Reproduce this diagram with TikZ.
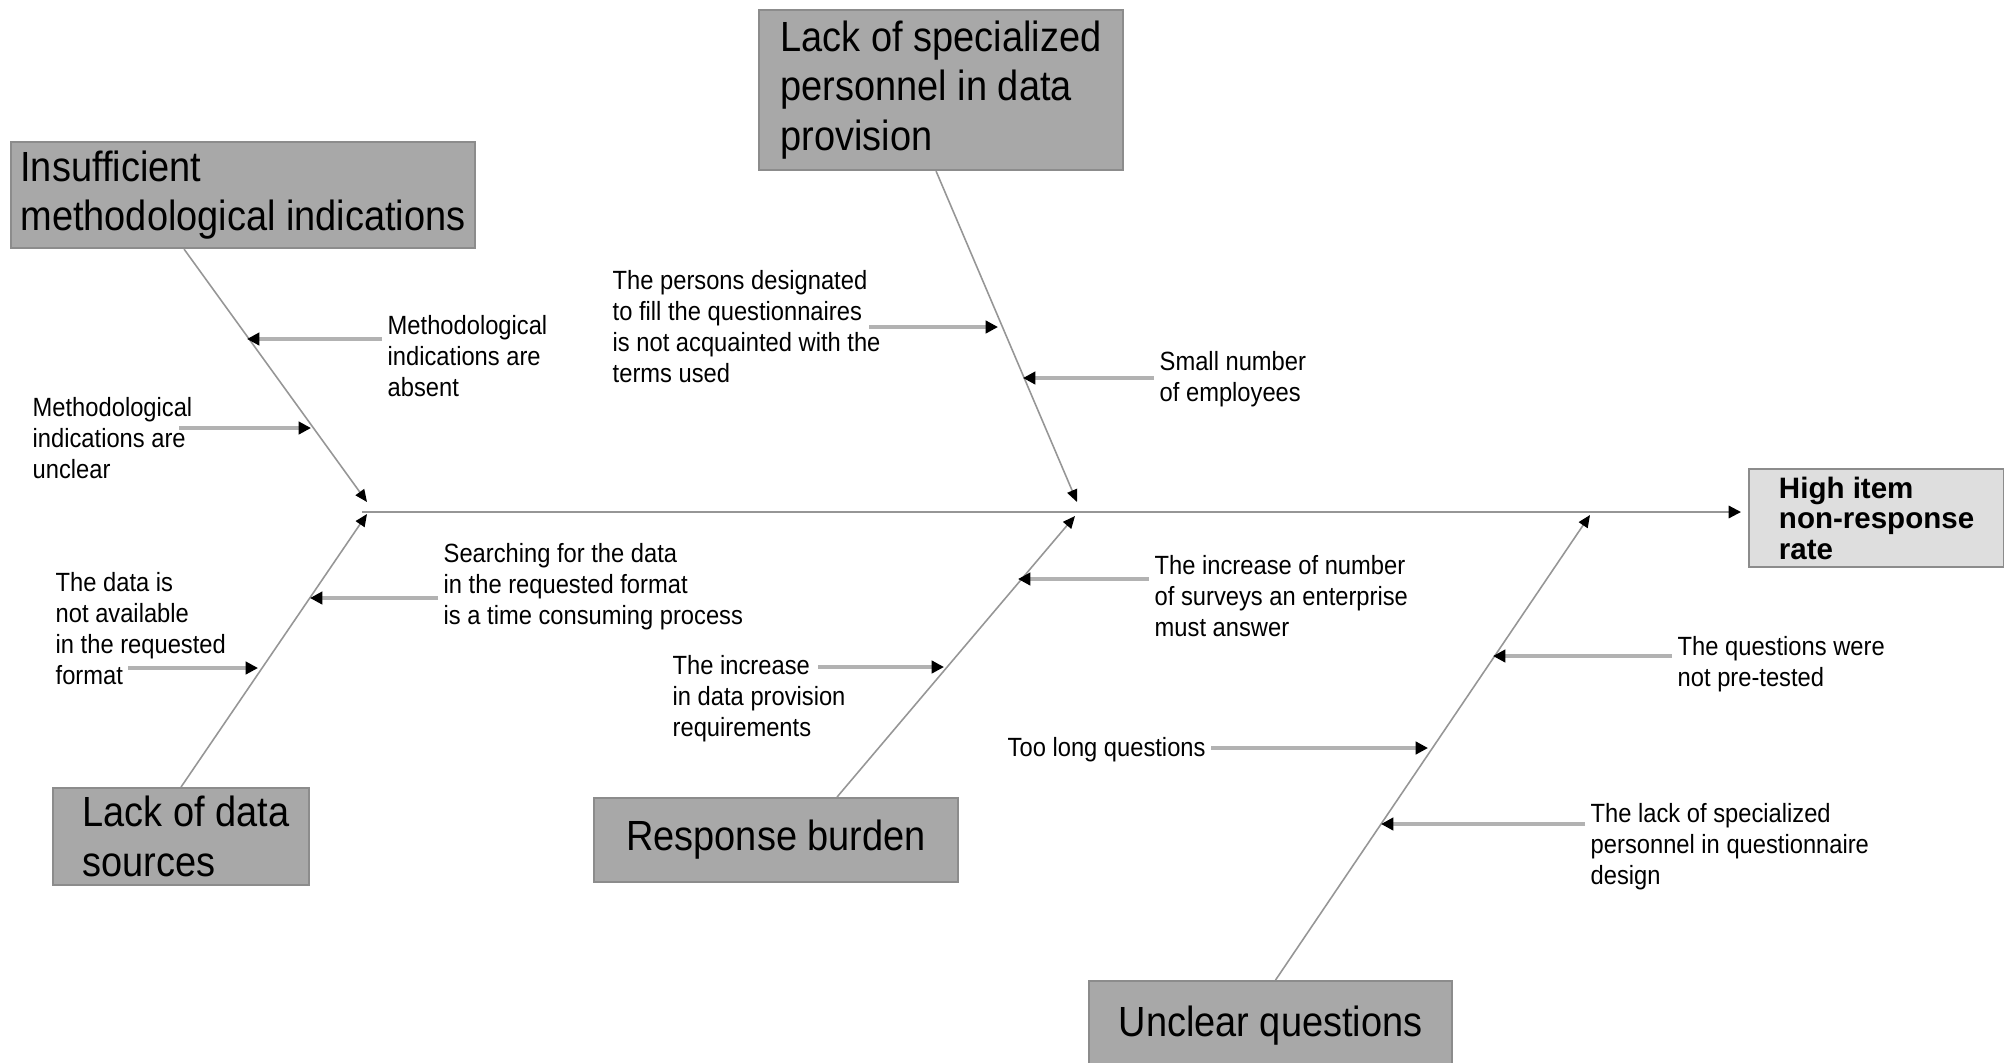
\documentclass[tikz,border=0pt]{standalone}
\usepackage{fontspec}
\setmainfont{Liberation Sans}
\newfontfamily\narrowsans[FakeStretch=0.9]{Liberation Sans}
\usetikzlibrary{arrows.meta, calc, positioning}

\definecolor{boxgray}{RGB}{168,168,168}
\definecolor{boxline}{RGB}{140,140,140}
\definecolor{effectgray}{RGB}{222,222,222}
\definecolor{bonegray}{RGB}{150,150,150}
\definecolor{subgray}{RGB}{178,178,178}

\begin{document}
\begin{tikzpicture}[>=Latex,
  causebox/.style={fill=boxgray, draw=boxline, line width=0.6pt, align=left, anchor=north west,
    inner sep=0pt, font=\narrowsans\fontsize{12}{14.2}\selectfont},
  effectbox/.style={fill=effectgray, draw=boxline, line width=0.6pt, align=left, anchor=north west,
    inner sep=0pt, font=\fontsize{8.4}{8.7}\selectfont\bfseries},
  sublabel/.style={font=\narrowsans\fontsize{7.5}{8.8}\selectfont, align=left, inner sep=0.05cm, anchor=base west},
  bone/.style={draw=bonegray, line width=0.45pt, -{Triangle[color=black, length=3.5pt, width=3pt]}},
  subarrow/.style={draw=subgray, line width=0.9pt, -{Triangle[color=black, length=3.5pt, width=3.5pt]}}]

  \useasboundingbox (0,0) rectangle (20.04,-10.62);

  % cause boxes and effect
  \node[causebox, minimum width=4.64cm, minimum height=1.06cm] (method) at (0.10,-1.41)
    {Insufficient\\methodological indications};
  \node[causebox, minimum width=3.64cm, minimum height=1.60cm] (personnel) at (7.58,-0.09)
    {Lack of specialized\\personnel in data\\provision};
  \node[causebox, minimum width=2.56cm, minimum height=0.97cm] (sources) at (0.52,-7.87)
    {\hspace*{0.1cm}Lack of data\\\hspace*{0.1cm}sources};
  \node[causebox, minimum width=3.64cm, minimum height=0.84cm] (burden) at (5.93,-7.97)
    {Response burden};
  \node[causebox, minimum width=3.63cm, minimum height=0.90cm] (unclearq) at (10.88,-9.80)
    {Unclear questions};
  \node[effectbox, minimum width=2.55cm, minimum height=0.98cm] (effect) at (17.48,-4.68)
    {High item\\non-response\\rate};

  % spine
  \coordinate (spine) at (3.62,-5.12);
  \draw[bonegray, line width=0.6pt, -{Triangle[color=black, length=3.5pt, width=3.5pt]}, shorten >=0.07cm]
    (spine) -- (spine -| effect.west);

  % bones
  \coordinate (hm) at (3.67,-5.02);
  \coordinate (hs) at (3.67,-5.14);
  \coordinate (hp) at (10.77,-5.02);
  \coordinate (hb) at (10.75,-5.16);
  \coordinate (hu) at (15.90,-5.15);
  \draw[bone] ([xshift=-0.59cm]method.south) -- (hm);
  \draw[bone] (sources.north) -- (hs);
  \draw[bone] ([xshift=-0.05cm]personnel.south) -- (hp);
  \draw[bone] ([xshift=0.61cm]burden.north) -- (hb);
  \draw[bone] ([xshift=0.05cm]unclearq.north) -- (hu);

  % sub-causes (anchored at the baseline of the last line)
  \node[sublabel] (absent) at (3.82,-3.96) {Methodological\\indications are\\absent};
  \coordinate (m1) at (2.47,-3.39);
  \draw[subarrow] (absent.west |- m1) -- (m1);

  \node[sublabel] (unclear) at (0.27,-4.78) {Methodological\\indications are\\unclear};
  \coordinate (m2t) at (1.79,-4.28);
  \coordinate (m2) at (3.11,-4.28);
  \draw[subarrow] (m2t) -- (m2);

  \node[sublabel] (persons) at (6.07,-3.826) {The persons designated\\to fill the questionnaires\\is not acquainted with the\\terms used};
  \coordinate (p1t) at (8.69,-3.27);
  \coordinate (p1) at (9.98,-3.27);
  \draw[subarrow] (p1t) -- (p1);

  \node[sublabel] (employees) at (11.54,-4.01) {Small number\\of employees};
  \coordinate (p2) at (10.23,-3.78);
  \draw[subarrow] (employees.west |- p2) -- (p2);

  \node[sublabel] (searching) at (4.38,-6.24) {Searching for the data\\in the requested format\\is a time consuming process};
  \coordinate (s1) at (3.10,-5.98);
  \draw[subarrow] (searching.west |- s1) -- (s1);

  \node[sublabel] (notavail) at (0.50,-6.84) {The data is\\not available\\in the requested\\format};
  \coordinate (s2t) at (1.28,-6.68);
  \coordinate (s2) at (2.58,-6.68);
  \draw[subarrow] (s2t) -- (s2);

  \node[sublabel] (surveys) at (11.49,-6.36) {The increase of number\\of surveys an enterprise\\must answer};
  \coordinate (b1) at (10.18,-5.79);
  \draw[subarrow] (surveys.west |- b1) -- (b1);

  \node[sublabel] (requirements) at (6.67,-7.36) {The increase\\in data provision\\requirements};
  \coordinate (b2t) at (8.18,-6.67);
  \coordinate (b2) at (9.44,-6.67);
  \draw[subarrow] (b2t) -- (b2);

  \node[sublabel] (pretest) at (16.72,-6.86) {The questions were\\not pre-tested};
  \coordinate (q1) at (14.93,-6.56);
  \draw[subarrow] (pretest.west |- q1) -- (q1);

  \node[sublabel] (toolong) at (10.02,-7.56) {Too long questions};
  \coordinate (q2) at (14.28,-7.48);
  \draw[subarrow] (toolong.east |- q2) -- (q2);

  \node[sublabel] (design) at (15.85,-8.84) {The lack of specialized\\personnel in questionnaire\\design};
  \coordinate (q3) at (13.81,-8.24);
  \draw[subarrow] (design.west |- q3) -- (q3);

\end{tikzpicture}
\end{document}
